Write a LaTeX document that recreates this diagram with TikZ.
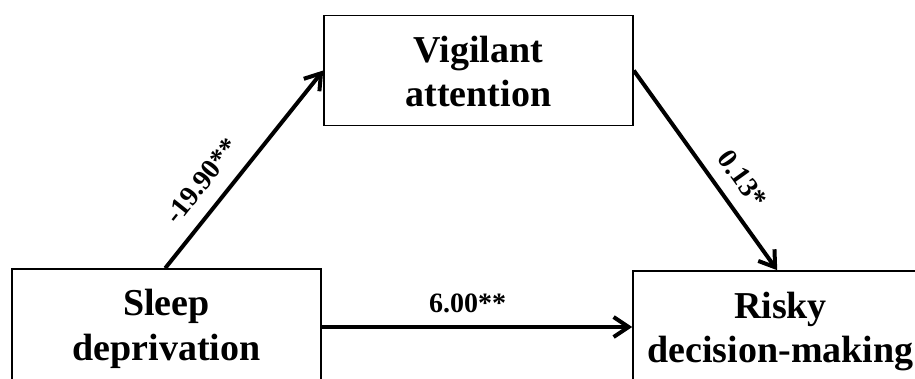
\documentclass[tikz,border=0pt]{standalone}
\usepackage{fontspec}
\setmainfont{Liberation Serif}
\usetikzlibrary{arrows.meta,calc}
\tikzset{
  box/.style={draw=black, line width=1.6pt, rectangle, inner sep=0pt},
  boxtext/.style={font=\bfseries\fontsize{38}{44}\selectfont, anchor=base, inner sep=0pt},
  conn/.style={line width=4pt, -{Straight Barb[length=15pt,width=20pt,line width=4pt]}},
  lab/.style={font=\bfseries\fontsize{28}{30}\selectfont, inner sep=0pt, anchor=center}
}
\begin{document}
\begin{tikzpicture}[x=1pt,y=-1pt]
\useasboundingbox (0,0) rectangle (915,378);
\clip (0,0) rectangle (915,378);
% boxes
\node[box, minimum width=309pt, minimum height=110pt] (va) at (478.5,70.5) {};
\node[box, minimum width=309pt, minimum height=120pt] (sd) at (166.5,329) {};
\node[box, minimum width=295pt, minimum height=120pt] (rd) at (780.5,331) {};
% texts
\node[boxtext] (va1) at (478.5,62) {Vigilant};
\node[boxtext] (va2) at (478.5,106) {attention};
\node[boxtext] (sd1) at (166.5,315) {Sleep};
\node[boxtext] (sd2) at (166.5,360) {deprivation};
\node[boxtext] (rd1) at (780.5,318) {Risky};
\node[boxtext] (rd2) at (780.5,362) {decision-making};
% connectors
\coordinate (a1s) at ([xshift=154pt]sd.north west);
\coordinate (a2e) at ([xshift=145pt]rd.north west);
\draw[conn] (a1s) -- (va.west)
  node[lab, pos=0.36, sloped, yshift=26pt] (l1) {-19.90**};
\draw[conn] (va.east) -- (a2e)
  node[lab, pos=0.617, sloped, yshift=25pt] (l2) {0.13*};
\coordinate (a3s) at ([yshift=2pt]sd.east);
\draw[conn] (a3s) -- (a3s -| rd.west)
  node[lab, pos=0.47, yshift=24pt] (l3) {6.00**};
\end{tikzpicture}
\end{document}
